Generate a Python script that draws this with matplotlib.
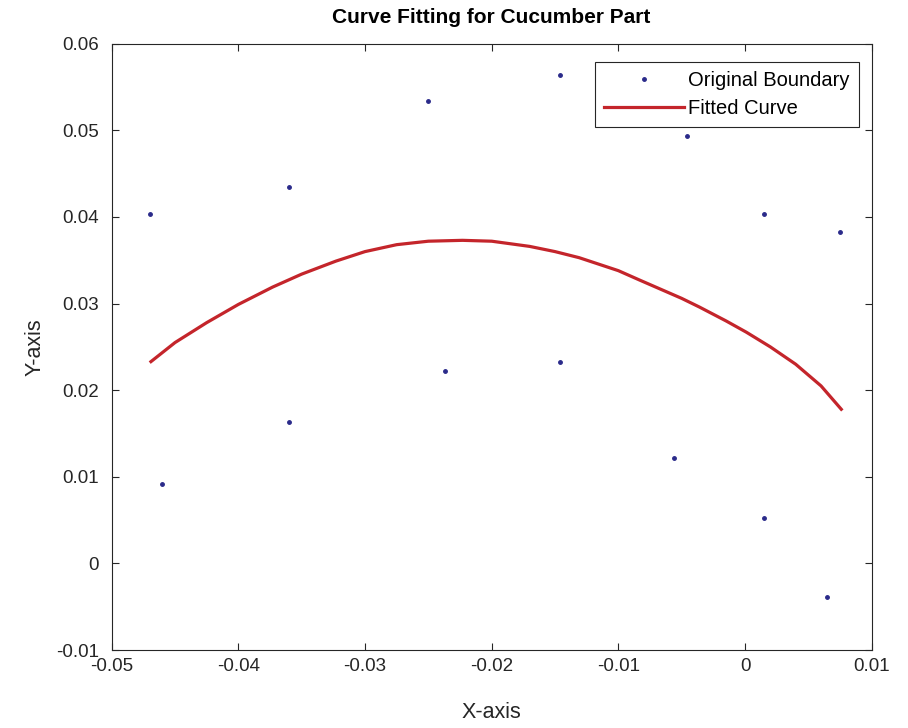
import matplotlib
matplotlib.use('Agg')
import matplotlib.pyplot as plt

plt.rcParams['font.family'] = ['Liberation Sans', 'DejaVu Sans']

# boundary points
bx = [-0.047, -0.046, -0.036, -0.036, -0.025, -0.0237, -0.0146, -0.0146,
      -0.0046, -0.0056, 0.0015, 0.0015, 0.0075, 0.0065]
by = [0.0403, 0.0092, 0.0434, 0.0163, 0.0534, 0.0222, 0.0564, 0.0233,
      0.0494, 0.0122, 0.0403, 0.0053, 0.0383, -0.0039]

# fitted curve
cx = [-0.0469, -0.045, -0.0425, -0.040, -0.0373, -0.035, -0.0323, -0.030,
      -0.0275, -0.025, -0.0223, -0.020, -0.017, -0.015, -0.0131, -0.010,
      -0.0083, -0.005, -0.0036, -0.0015, 0.0001, 0.002, 0.004, 0.006, 0.0076]
cy = [0.0233, 0.0255, 0.0278, 0.0299, 0.0319, 0.0334, 0.0349, 0.0360,
      0.0368, 0.0372, 0.0373, 0.0372, 0.0366, 0.0360, 0.0353, 0.0338,
      0.0327, 0.0306, 0.0296, 0.0280, 0.0267, 0.0250, 0.0230, 0.0205, 0.0178]

fig = plt.figure(figsize=(9.08, 7.28), dpi=100)
ax = fig.add_axes([0.123, 0.107, 0.837, 0.833])

ax.plot(bx, by, '.', color='#2a2a8a', markersize=5, label='Original Boundary')
ax.plot(cx, cy, '-', color='#c4252b', linewidth=2.3, label='Fitted Curve')

ax.set_xlim(-0.05, 0.01)
ax.set_ylim(-0.01, 0.06)
ax.set_xticks([-0.05, -0.04, -0.03, -0.02, -0.01, 0, 0.01])
ax.set_xticklabels(['-0.05', '-0.04', '-0.03', '-0.02', '-0.01', '0', '0.01'])
ax.set_yticks([-0.01, 0, 0.01, 0.02, 0.03, 0.04, 0.05, 0.06])
ax.set_yticklabels(['-0.01', '0', '0.01', '0.02', '0.03', '0.04', '0.05', '0.06'])
ax.tick_params(direction='in', top=True, right=True, labelsize=13.5, colors='#262626', length=5)
ax.tick_params(axis='y', pad=9)
ax.tick_params(axis='x', pad=6)
for s in ax.spines.values():
    s.set_color('#262626')
    s.set_linewidth(0.8)

ax.set_xlabel('X-axis', fontsize=15.5, color='#262626', labelpad=19)
ax.set_ylabel('Y-axis', fontsize=15.5, color='#262626', labelpad=8)
ax.set_title('Curve Fitting for Cucumber Part', fontsize=15, fontweight='bold', pad=15)

leg = ax.legend(loc='upper right', bbox_to_anchor=(0.983, 0.97), fontsize=14.5,
                fancybox=False, edgecolor='#262626', framealpha=1, borderaxespad=0,
                handlelength=4.0, borderpad=0.45, labelspacing=0.45, handletextpad=0.2)
leg.get_frame().set_linewidth(0.8)

fig.savefig('out.png', dpi=100)
